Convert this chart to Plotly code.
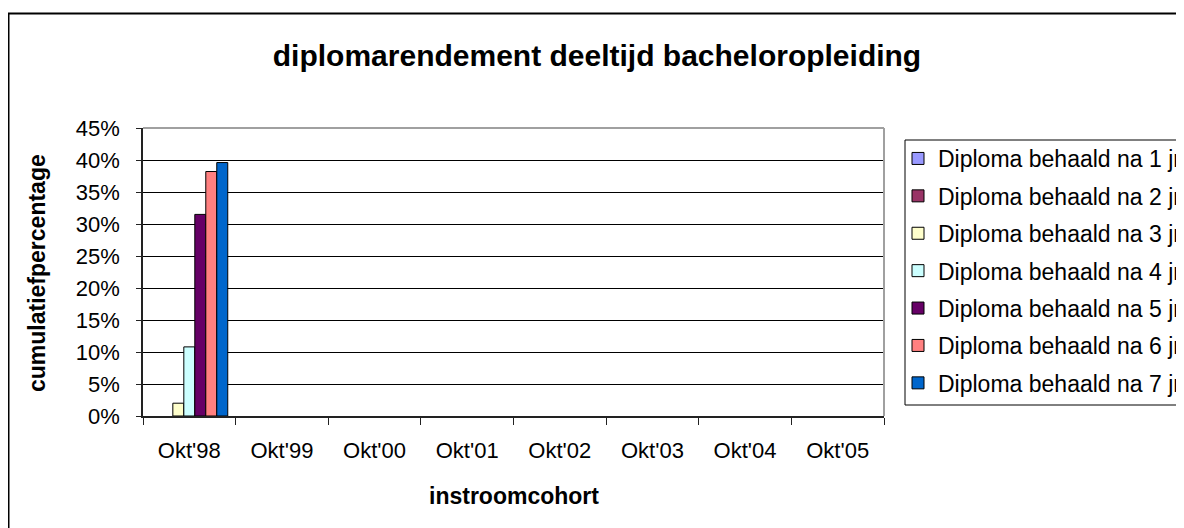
import plotly.graph_objects as go

categories = ["Okt'98", "Okt'99", "Okt'00", "Okt'01", "Okt'02", "Okt'03", "Okt'04", "Okt'05"]
series_names = [
    "Diploma behaald na 1 jr",
    "Diploma behaald na 2 jr",
    "Diploma behaald na 3 jr",
    "Diploma behaald na 4 jr",
    "Diploma behaald na 5 jr",
    "Diploma behaald na 6 jr",
    "Diploma behaald na 7 jr",
]
jr1 = [None, None, None, None, None, None, None, None]
jr2 = [None, None, None, None, None, None, None, None]
jr3 = [0.020, None, None, None, None, None, None, None]
jr4 = [0.108, None, None, None, None, None, None, None]
jr5 = [0.315, None, None, None, None, None, None, None]
jr6 = [0.382, None, None, None, None, None, None, None]
jr7 = [0.396, None, None, None, None, None, None, None]
series_values = [jr1, jr2, jr3, jr4, jr5, jr6, jr7]
colors = ["#9999FF", "#993366", "#FFFFCC", "#CCFFFF", "#660066", "#FF8080", "#0066CC"]

FONT = "Liberation Sans, Arial, sans-serif"

fig = go.Figure()
for i, (name, vals) in enumerate(zip(series_names, series_values)):
    fig.add_trace(go.Bar(
        x=categories, y=vals, name=name,
        marker=dict(color=colors[i], line=dict(color="black", width=1)),
        legendgroup=f"g{i}",
    ))

# page body has an 8px margin; work in reference pixel coords and offset
OFF = 8
W, H = 1184 - OFF, 528 - OFF
L = 143 - OFF
T = 128 - OFF
R = W - (884 - OFF)
B = H - (416 - OFF)
pw = W - L - R
ph = H - T - B


def px_x(x):
    return (x - OFF - L) / pw


def px_y(y):
    return (H - B - (y - OFF)) / ph


fig.update_layout(
    width=W, height=H,
    margin=dict(l=L, r=R, t=T, b=B, autoexpand=False),
    paper_bgcolor="white", plot_bgcolor="white",
    barmode="group", bargap=0.17, bargroupgap=0,
    font=dict(family=FONT, size=22, color="black"),
    title=dict(text="<b>diplomarendement deeltijd bacheloropleiding</b>",
               font=dict(family=FONT, size=30, color="black"),
               x=(597 - OFF) / W, xref="container", xanchor="center",
               y=1 - (55 - OFF) / H, yref="container", yanchor="middle"),
    showlegend=True,
    legend=dict(
        x=px_x(898), xanchor="left", y=px_y(137), yanchor="top",
        borderwidth=0, bgcolor="rgba(0,0,0,0)",
        font=dict(family=FONT, size=23, color="black"),
        traceorder="grouped", tracegroupgap=4.5,
    ),
    xaxis=dict(
        type="category", categoryorder="array", categoryarray=categories,
        showline=True, linecolor="#222222", linewidth=1.5,
        ticks="outside", tickson="boundaries", ticklen=7, tickcolor="#222222",
        showgrid=False, ticklabelstandoff=14,
        tickfont=dict(family=FONT, size=22, color="black"),
    ),
    yaxis=dict(
        range=[0, 0.45], dtick=0.05, tickformat=".0%",
        showline=True, linecolor="#222222", linewidth=1.5,
        ticks="outside", ticklen=5, tickcolor="#222222",
        showgrid=True, gridcolor="black", gridwidth=1,
        zeroline=False, ticklabelstandoff=12,
        tickfont=dict(family=FONT, size=22, color="black"),
    ),
    shapes=[
        dict(type="line", xref="paper", yref="paper", x0=0, x1=1, y0=1, y1=1,
             line=dict(color="#A0A0A0", width=2), layer="above"),
        dict(type="line", xref="paper", yref="paper", x0=1, x1=1, y0=0, y1=1,
             line=dict(color="#A0A0A0", width=2), layer="above"),
        dict(type="rect", xref="paper", yref="paper",
             x0=px_x(8.5), x1=px_x(1250), y0=px_y(13.5), y1=px_y(600),
             line=dict(color="black", width=2), layer="below"),
        dict(type="rect", xref="paper", yref="paper",
             x0=px_x(905), x1=px_x(1250), y0=px_y(140), y1=px_y(405),
             line=dict(color="black", width=1), fillcolor="white", layer="above"),
    ],
    annotations=[
        dict(text="<b>cumulatiefpercentage</b>", xref="paper", yref="paper",
             x=px_x(37), y=px_y(273), textangle=-90, showarrow=False,
             xanchor="center", yanchor="middle",
             font=dict(family=FONT, size=23, color="black")),
        dict(text="<b>instroomcohort</b>", xref="paper", yref="paper",
             x=px_x(514), y=px_y(496), showarrow=False,
             xanchor="center", yanchor="middle",
             font=dict(family=FONT, size=23, color="black")),
    ],
)

fig.write_html("out.html")
